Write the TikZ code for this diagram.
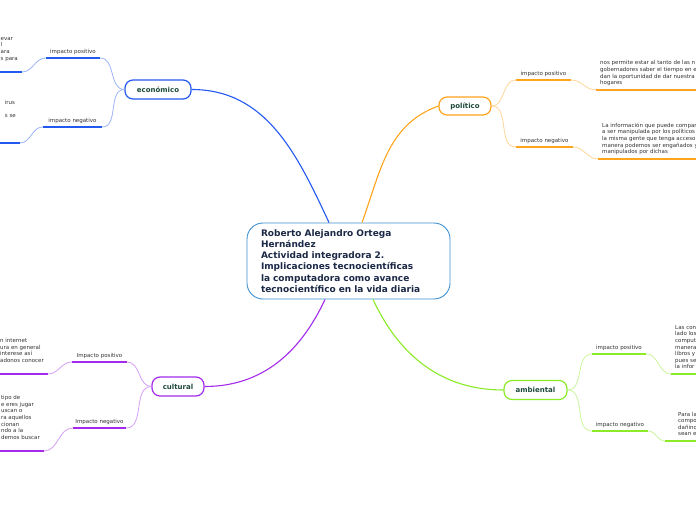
\documentclass[tikz,border=0pt]{standalone}
\usepackage{fontspec}
\setmainfont{DejaVu Sans}
\definecolor{EcoBlue}{HTML}{2459F0}
\definecolor{PolOrange}{HTML}{FFA41C}
\definecolor{CultPurple}{HTML}{A42AEC}
\definecolor{AmbGreen}{HTML}{8AEB26}
\definecolor{CentroBlue}{HTML}{3F91D3}
\definecolor{CentroText}{HTML}{1B2947}
\definecolor{RamaText}{HTML}{1D4A3B}
\definecolor{HojaText}{HTML}{333333}
\usetikzlibrary{positioning}

\begin{document}
\begin{tikzpicture}[x=1pt, y=1pt,
  centro/.style={draw=CentroBlue, line width=0.9pt, rounded corners=16pt, fill=white,
    minimum width=203pt, minimum height=76pt, inner xsep=14pt, text width=175pt,
    align=left, text=CentroText, font=\fontsize{9}{11.2}\selectfont\bfseries},
  rama/.style={draw=#1, line width=1.2pt, rounded corners=8pt, fill=white,
    minimum height=19pt, text=RamaText, font=\fontsize{7}{8}\selectfont\bfseries},
  impacto/.style={anchor=south, inner xsep=0pt, inner ysep=3pt, text depth=1.5pt,
    text=HojaText, font=\fontsize{5.5}{6.6}\selectfont},
  hoja/.style={inner xsep=4pt, inner ysep=3.5pt, text depth=1.5pt, align=left,
    text=HojaText, font=\fontsize{5.5}{6.6}\selectfont},
  rayita/.style={draw=#1, line width=2pt},
  rama line/.style={draw=#1, line width=1.1pt},
  sub line/.style={draw=#1!45, line width=0.8pt}]
  \useasboundingbox (0,0) rectangle (696,520);
  \clip (0,0) rectangle (696,520);
  \fill[white] (0,0) rectangle (696,520);

  % Central topic
  \node[centro] (centro) at (348.5,259) {Roberto Alejandro Ortega\\Hernández\\Actividad integradora 2.\\Implicaciones tecnocientíficas\\la computadora como avance\\tecnocientífico en la vida diaria};

  % Main branches
  \node[rama=EcoBlue, minimum width=66pt] (eco) at (158,430.5) {económico};
  \node[rama=PolOrange, minimum width=52pt, minimum height=18pt] (pol) at (465,414) {político};
  \node[rama=CultPurple, minimum width=52pt] (cult) at (178,133.5) {cultural};
  \node[rama=AmbGreen, minimum width=63pt] (amb) at (535.5,130) {ambiental};

  \draw[rama line=EcoBlue] (eco.east) to[out=0,in=115] ([xshift=-19.5pt]centro.north);
  \draw[rama line=PolOrange] (pol.west) to[out=200,in=70] ([xshift=13.5pt]centro.north);
  \draw[rama line=CultPurple] (cult.east) to[out=0,in=-115] ([xshift=-23.5pt]centro.south);
  \draw[rama line=AmbGreen] (amb.west) to[out=180,in=-65] ([xshift=24.5pt]centro.south);

  % Impacts
  \node[impacto, minimum width=54pt] (ecopos) at (73,462) {impacto positivo};
  \node[impacto, minimum width=59pt] (econeg) at (72.5,393) {impacto negativo};
  \node[impacto, minimum width=55pt] (cultpos) at (99.5,158) {Impacto positivo};
  \node[impacto, minimum width=53pt] (cultneg) at (99.5,92) {Impacto negativo};
  \node[impacto, minimum width=55pt] (polpos) at (543.5,440) {impacto positivo};
  \node[impacto, minimum width=57pt] (polneg) at (544.5,373) {impacto negativo};
  \node[impacto, minimum width=54pt] (ambpos) at (619,166) {impacto positivo};
  \node[impacto, minimum width=56pt] (ambneg) at (620,89) {impacto negativo};

  % Leaf texts (cut by the page edge)
  \node[hoja, anchor=south east] (ecoposL) at (22,448) {evar\\l\\ara\\s para\\\mbox{}};
  \node[hoja, anchor=south east] (econegL) at (20,377) {irus\\\mbox{}\\s se\\\mbox{}\\\mbox{}\\\mbox{}};
  \node[hoja, anchor=south east] (cultposL) at (48,146) {n internet\\ura en general\\interese así\\adonos conocer\\\mbox{}};
  \node[hoja, anchor=south east] (cultnegL) at (44,69) {tipo de\\e eres jugar\\uscan o\\ra aquellos\\cionan\\ndo a la\\demos buscar\\\mbox{}};
  \node[hoja, anchor=south west] (polposL) at (596,430) {nos permite estar al tanto de las n\\gobernadores saber el tiempo en e\\dan la oportunidad de dar nuestra\\hogares};
  \node[hoja, anchor=south west] (polnegL) at (598,361) {La información que puede compar\\a ser manipulada por los políticos\\la misma gente que tenga acceso\\manera podemos ser engañados y\\manipulados por dichas};
  \node[hoja, anchor=south west] (ambposL) at (671,146) {Las con\\lado los\\comput\\manera\\libros y\\pues se\\la infor};
  \node[hoja, anchor=south west, inner xsep=13pt] (ambnegL) at (665,79) {Para la\\compo\\dañino\\sean e};

  % Underlines
  \foreach \n/\c in {ecopos/EcoBlue, econeg/EcoBlue, cultpos/CultPurple, cultneg/CultPurple,
                     polpos/PolOrange, polneg/PolOrange, ambpos/AmbGreen, ambneg/AmbGreen} {
    \draw[rayita=\c] (\n.south west) -- (\n.south east);
  }
  \foreach \n/\c in {ecoposL/EcoBlue, econegL/EcoBlue, cultposL/CultPurple, cultnegL/CultPurple} {
    \draw[rayita=\c, shorten <=-6pt] (\n.south west) -- (\n.south east);
  }
  \foreach \n/\c in {polposL/PolOrange, polnegL/PolOrange, ambposL/AmbGreen, ambnegL/AmbGreen} {
    \draw[rayita=\c, shorten >=-40pt] (\n.south west) -- (\n.south east);
  }

  % Sub connectors
  \draw[sub line=EcoBlue] (eco.west) to[out=180,in=0] (ecopos.south east);
  \draw[sub line=EcoBlue] (eco.west) to[out=180,in=0] (econeg.south east);
  \draw[sub line=EcoBlue] (ecopos.south west) to[out=180,in=0] (ecoposL.south east);
  \draw[sub line=EcoBlue] (econeg.south west) to[out=180,in=0] (econegL.south east);
  \draw[sub line=CultPurple] (cult.west) to[out=180,in=0] (cultpos.south east);
  \draw[sub line=CultPurple] (cult.west) to[out=180,in=0] (cultneg.south east);
  \draw[sub line=CultPurple] (cultpos.south west) to[out=180,in=0] (cultposL.south east);
  \draw[sub line=CultPurple] (cultneg.south west) to[out=180,in=0] (cultnegL.south east);
  \draw[sub line=PolOrange] (pol.east) to[out=0,in=180] (polpos.south west);
  \draw[sub line=PolOrange] (pol.east) to[out=0,in=180] (polneg.south west);
  \draw[sub line=PolOrange] (polpos.south east) to[out=0,in=180] (polposL.south west);
  \draw[sub line=PolOrange] (polneg.south east) to[out=0,in=180] (polnegL.south west);
  \draw[sub line=AmbGreen] (amb.east) to[out=0,in=180] (ambpos.south west);
  \draw[sub line=AmbGreen] (amb.east) to[out=0,in=180] (ambneg.south west);
  \draw[sub line=AmbGreen] (ambpos.south east) to[out=0,in=180] (ambposL.south west);
  \draw[sub line=AmbGreen] (ambneg.south east) to[out=0,in=180] (ambnegL.south west);
\end{tikzpicture}
\end{document}
